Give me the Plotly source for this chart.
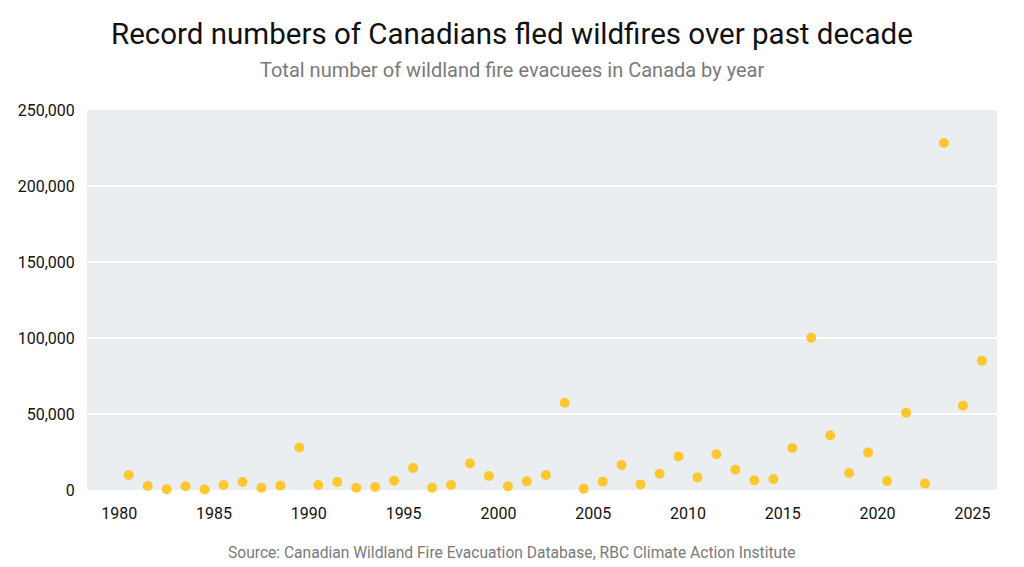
import plotly.graph_objects as go

years = [str(y) for y in range(1980, 2026)]
evacuees = [
    9900, 2600, 500, 2500, 400, 3300, 5300, 1500, 2900, 28000,
    3300, 5300, 1500, 2000, 6100, 14500, 1500, 3300, 17500, 9200,
    2400, 5700, 9900, 57400, 900, 5500, 16400, 3700, 10700, 22100,
    8300, 23500, 13400, 6400, 7200, 27600, 100200, 36000, 11200, 24600,
    5900, 50900, 4200, 228300, 55500, 85100,
]

title_text = "Record numbers of Canadians fled wildfires over past decade"
subtitle_text = "Total number of wildland fire evacuees in Canada by year"
source_text = "Source: Canadian Wildland Fire Evacuation Database, RBC Climate Action Institute"

FONT = "Roboto"
W, H = 1024, 567
ML, MR, MT, MB = 87, 27, 110, 77
PW, PH = W - ML - MR, H - MT - MB


def px_to_paper_x(px):
    return (px - ML) / PW


def px_to_paper_y(py):
    return (H - MB - py) / PH


fig = go.Figure(
    go.Scatter(
        x=years,
        y=evacuees,
        xperiod="M12",
        xperiodalignment="middle",
        mode="markers",
        marker=dict(color="#FCC72F", size=10, line=dict(width=0)),
        cliponaxis=False,
        hovertemplate="%{y:,}<extra></extra>",
    )
)

cx = px_to_paper_x(W / 2)
fig.update_layout(
    width=W,
    height=H,
    margin=dict(l=ML, r=MR, t=MT, b=MB),
    paper_bgcolor="white",
    plot_bgcolor="#EAEEF1",
    font=dict(family=FONT, color="#111111", size=16),
    showlegend=False,
    annotations=[
        dict(text=title_text, x=cx, y=px_to_paper_y(34), xref="paper", yref="paper", showarrow=False,
             font=dict(size=29.5, color="#111111", family=FONT), xanchor="center", yanchor="middle"),
        dict(text=subtitle_text, x=cx, y=px_to_paper_y(70), xref="paper", yref="paper", showarrow=False,
             font=dict(size=20, color="#7A7A7A", family=FONT), xanchor="center", yanchor="middle"),
        dict(text=source_text, x=cx, y=px_to_paper_y(553), xref="paper", yref="paper", showarrow=False,
             font=dict(size=15.6, color="#7A7A7A", family=FONT), xanchor="center", yanchor="middle"),
    ],
)

fig.update_xaxes(
    type="date",
    range=["1978-04-20", "2026-04-20"],
    tick0="1980-01-01",
    dtick="M60",
    tickformat="%Y",
    showgrid=False,
    zeroline=False,
    showline=False,
    ticks="outside",
    ticklen=9,
    tickcolor="rgba(0,0,0,0)",
    tickfont=dict(size=16, color="#111111"),
)

fig.update_yaxes(
    range=[0, 250000],
    tickvals=[0, 50000, 100000, 150000, 200000, 250000],
    ticktext=["0", "50,000", "100,000", "150,000", "200,000", "250,000"],
    showgrid=True,
    gridcolor="white",
    gridwidth=2,
    zeroline=False,
    showline=False,
    ticks="outside",
    ticklen=8,
    tickcolor="rgba(0,0,0,0)",
    tickfont=dict(size=16, color="#111111"),
)

fig.write_html("out.html")
